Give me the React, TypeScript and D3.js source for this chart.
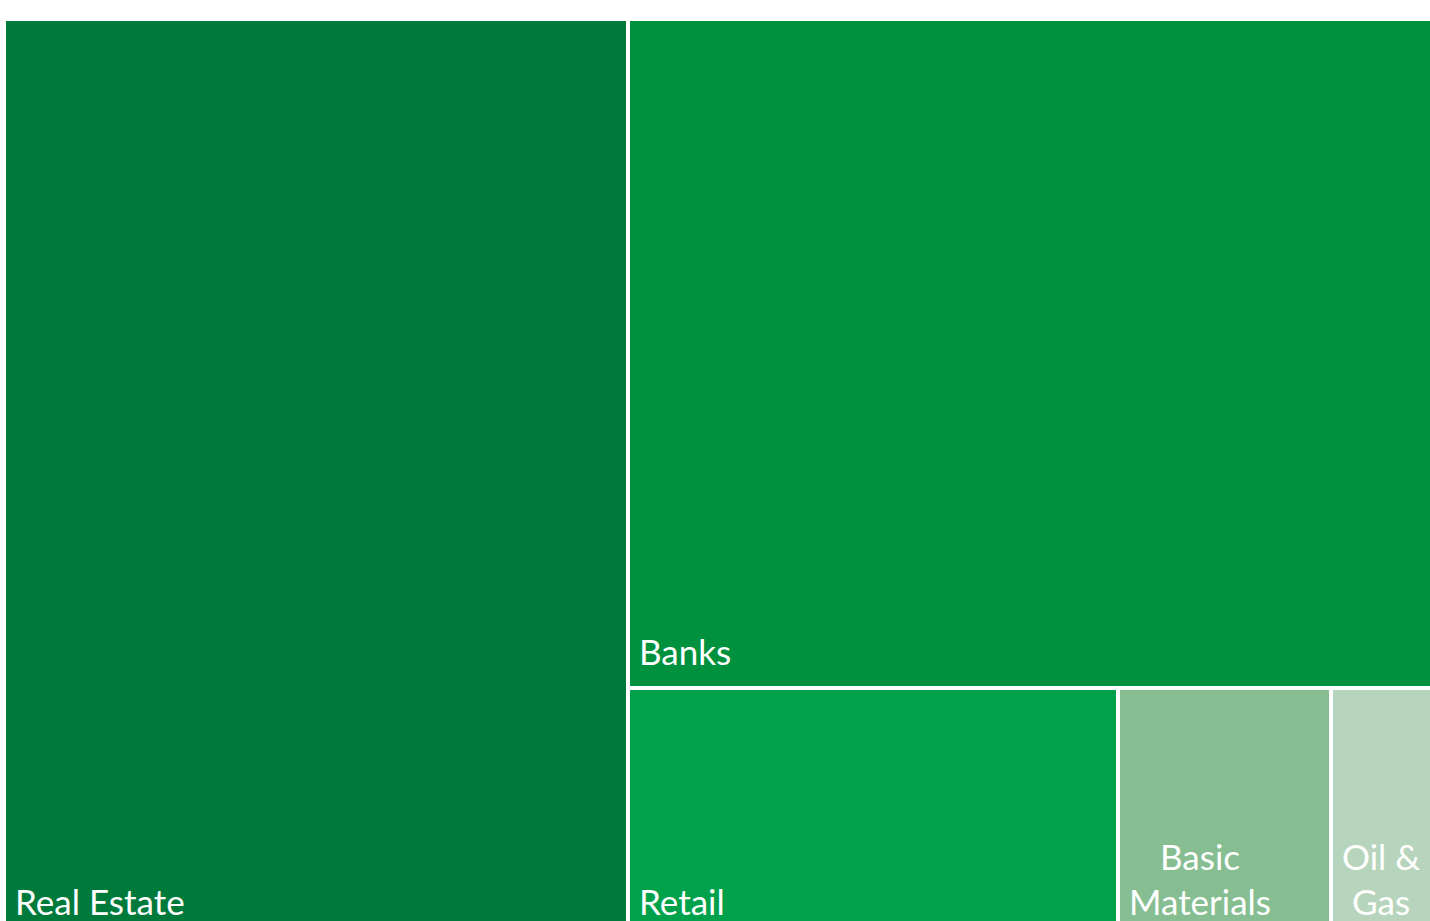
import React, { useEffect, useRef } from "react";
import * as d3 from "d3";

const categories = ["Real Estate", "Banks", "Retail", "Basic Materials", "Oil & Gas"];
const values = [557, 531, 119, 51.5, 27.5];
const colors = ["#007A3B", "#00913F", "#00A14B", "#86BE92", "#B7D5BD"];

const W = 1430;
const H = 921;

export default function App() {
  const ref = useRef<SVGSVGElement | null>(null);

  useEffect(() => {
    const svg = d3.select(ref.current);
    svg.selectAll("*").remove();

    const data = categories.map((c, i) => ({ name: c, value: values[i], color: colors[i] }));
    const root = d3
      .hierarchy<any>({ name: "root", children: data })
      .sum((d: any) => d.value || 0);

    d3.treemap<any>()
      .tile(d3.treemapSquarify.ratio(1))
      .size([1436, 915])
      .paddingInner(4)
      .round(true)(root);

    const g = svg.append("g").attr("transform", "translate(6,21)");
    const leaves = root.leaves() as any[];

    const cell = g
      .selectAll("g.cell")
      .data(leaves)
      .join("g")
      .attr("class", "cell");

    cell
      .append("rect")
      .attr("x", (d: any) => d.x0)
      .attr("y", (d: any) => d.y0)
      .attr("width", (d: any) => d.x1 - d.x0)
      .attr("height", (d: any) => d.y1 - d.y0)
      .attr("fill", (d: any) => d.data.color);

    const pad = 9;
    const lineH = 45;
    cell.each(function (d: any) {
      const sel = d3.select(this);
      const text = sel
        .append("text")
        .attr("fill", "#ffffff")
        .style("font-family", "Lato, 'Open Sans', sans-serif")
        .style("font-size", "35px");
      const maxW = d.x1 - d.x0 - 2 * pad;
      const words = String(d.data.name).split(" ");
      const lines: string[] = [];
      let cur = "";
      const probe = text.append("tspan");
      for (const w of words) {
        const test = cur ? cur + " " + w : w;
        probe.text(test);
        const len = (probe.node() as SVGTSpanElement).getComputedTextLength();
        if (len > maxW && cur) {
          lines.push(cur);
          cur = w;
        } else {
          cur = test;
        }
      }
      if (cur) lines.push(cur);
      probe.remove();

      const widths: number[] = [];
      lines.forEach((l) => {
        const t = text.append("tspan").text(l);
        widths.push((t.node() as SVGTSpanElement).getComputedTextLength());
        t.remove();
      });
      const widest = Math.max(...widths);
      const multi = lines.length > 1;
      const cx = multi ? d.x0 + pad + widest / 2 : d.x0 + pad;
      const baseY = d.y1 - 21;
      text.attr("text-anchor", multi ? "middle" : "start");
      lines.forEach((l, i) => {
        text
          .append("tspan")
          .attr("x", cx)
          .attr("y", baseY - (lines.length - 1 - i) * lineH)
          .text(l);
      });
    });
  }, []);

  return (
    <svg
      ref={ref}
      width={W}
      height={H}
      style={{ position: "absolute", left: 0, top: 0, background: "#ffffff", overflow: "hidden" }}
    />
  );
}
